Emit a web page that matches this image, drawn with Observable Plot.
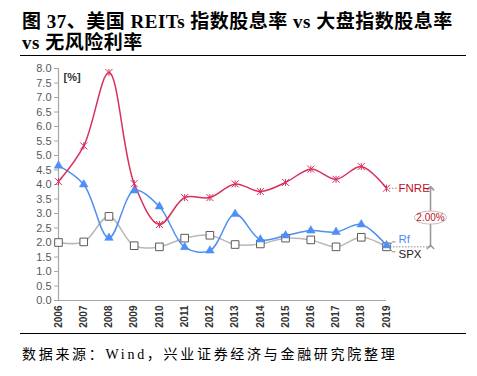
<!DOCTYPE html>
<html><head><meta charset="utf-8">
<script src="https://cdn.jsdelivr.net/npm/d3@7"></script>
<script src="https://cdn.jsdelivr.net/npm/@observablehq/plot@0.6"></script>
<style>
body{margin:0;width:477px;height:376px;position:relative;background:#fff;overflow:hidden}
#title{position:absolute;left:22px;top:11px;font-family:"Liberation Serif","Noto Sans CJK SC",serif;font-weight:bold;font-size:19px;letter-spacing:0.5px;line-height:21px;color:#000;white-space:nowrap}
.rule{position:absolute;left:20px;width:446px;height:0;border-top:1.5px solid #000}
#chart{position:absolute;left:0;top:60px}
#caption{position:absolute;left:22px;top:343px;font-family:"Liberation Serif","Noto Sans CJK SC",serif;font-size:14px;letter-spacing:2.7px;color:#000;white-space:nowrap}
</style></head>
<body>
<div id="title">图 37、美国 REITs 指数股息率 vs 大盘指数股息率<br>vs 无风险利率</div>
<div class="rule" style="top:55px"></div>
<div id="chart"></div>
<div class="rule" style="top:333px"></div>
<div id="caption">数据来源：Wind，兴业证券经济与金融研究院整理</div>
<script>
const years = [2006,2007,2008,2009,2010,2011,2012,2013,2014,2015,2016,2017,2018,2019];
const fnre = [4.10,5.33,7.86,4.03,2.62,3.55,3.55,4.02,3.76,4.07,4.53,4.18,4.62,3.87];
const rf   = [4.65,4.00,2.16,3.79,3.24,1.84,1.72,2.98,2.10,2.24,2.41,2.36,2.62,1.90];
const spx  = [2.00,2.02,2.90,1.89,1.85,2.15,2.25,1.93,1.95,2.15,2.09,1.85,2.18,1.85];
const yTicks = [0,0.5,1,1.5,2,2.5,3,3.5,4,4.5,5,5.5,6,6.5,7,7.5,8];
const seriesNames = ["FNRE","Rf","SPX"];
const spreadLabel = "2.00%";
const unitLabel = "[%]";

const cRed = "#d82f5b", cBlue = "#4d8ff5", cGray = "#b8b8b8";
const rows = (vals) => years.map((y,i)=>({year:y, v:vals[i]}));
const last = years.length-1;

const starSym = {draw(ctx,size){const s=Math.sqrt(size/Math.PI);
  ctx.moveTo(-s,-s);ctx.lineTo(s,s);ctx.moveTo(s,-s);ctx.lineTo(-s,s);ctx.moveTo(0,-s);ctx.lineTo(0,s);}};
const ellSym = {draw(ctx,size){const a=16,b=6.5,k=0.5523;
  ctx.moveTo(a,0);
  ctx.bezierCurveTo(a,b*k,a*k,b,0,b);
  ctx.bezierCurveTo(-a*k,b,-a,b*k,-a,0);
  ctx.bezierCurveTo(-a,-b*k,-a*k,-b,0,-b);
  ctx.bezierCurveTo(a*k,-b,a,-b*k,a,0);
  ctx.closePath();}};
const leaderUp = {draw(ctx,size){ctx.moveTo(3,-1);ctx.lineTo(6,-5);ctx.lineTo(9,-5);}};
const leaderDown = {draw(ctx,size){ctx.moveTo(3,1);ctx.lineTo(6,5);ctx.lineTo(9,5);}};

const lastRow = [{year:years[last], f:fnre[last], r:rf[last], s:spx[last], mid:(fnre[last]+spx[last])/2}];

const chart = Plot.plot({
  width:477, height:274,
  marginLeft:58, marginRight:91, marginTop:8, marginBottom:34,
  style:{fontFamily:"'Liberation Sans', Arial, sans-serif", background:"transparent", overflow:"visible"},
  x:{domain:[2006,2019], axis:null},
  y:{domain:[0,8], axis:null},
  marks:[
    Plot.ruleX([2006],{stroke:"#a6a6a6", strokeWidth:1.2}),
    Plot.ruleY([0],{stroke:"#a6a6a6", strokeWidth:1.2}),
    Plot.axisY({ticks:yTicks, tickFormat:d3.format(".1f"), tickSize:4, tickPadding:3, stroke:"#a6a6a6", fill:"#595959", fontSize:11, label:null}),
    Plot.axisX({ticks:years, tickFormat:d=>String(d), tickSize:0, tickPadding:5, tickRotate:-90, fill:"#333", fontSize:10, fontWeight:"bold", label:null}),
    Plot.text([unitLabel],{frameAnchor:"top-left", dx:5, dy:5, fontWeight:"bold", fontSize:11, fill:"#333", textAnchor:"start"}),
    // annotation dotted lines
    Plot.ruleY(lastRow,{y:"s", x1:"year", x2:"year", insetLeft:4, insetRight:-46, stroke:"#8c8c8c", strokeDasharray:"1.5,1.5", strokeWidth:1}),
    Plot.ruleY(lastRow,{y:"f", x1:"year", x2:"year", insetLeft:3, insetRight:-11, stroke:"#8c8c8c", strokeDasharray:"1.5,1.5", strokeWidth:1}),
    Plot.ruleY(lastRow,{y:"f", x1:"year", x2:"year", insetLeft:38, insetRight:-46, stroke:"#8c8c8c", strokeDasharray:"1.5,1.5", strokeWidth:1}),
    // series
    Plot.line(rows(spx),{x:"year", y:"v", stroke:cGray, strokeWidth:1.5, curve:"catmull-rom"}),
    Plot.line(rows(rf),{x:"year", y:"v", stroke:cBlue, strokeWidth:1.5, curve:"catmull-rom"}),
    Plot.line(rows(fnre),{x:"year", y:"v", stroke:cRed, strokeWidth:1.5, curve:"catmull-rom"}),
    Plot.dot(rows(spx),{x:"year", y:"v", symbol:"square", r:4.3, fill:"white", stroke:"#5a5a5a", strokeWidth:1}),
    Plot.dot(rows(rf),{x:"year", y:"v", symbol:"triangle", r:3.2, fill:cBlue, stroke:cBlue, strokeWidth:0.5}),
    Plot.dot(rows(fnre),{x:"year", y:"v", symbol:starSym, r:3.5, fill:"none", stroke:cRed, strokeWidth:1}),
    // leader lines for Rf / SPX labels
    Plot.dot(lastRow,{x:"year", y:"s", symbol:leaderUp, r:3, fill:"none", stroke:"#8c8c8c", strokeWidth:1}),
    Plot.dot(lastRow,{x:"year", y:"s", symbol:leaderDown, r:3, fill:"none", stroke:"#8c8c8c", strokeWidth:1}),
    // spread arrow
    Plot.link(lastRow,{x1:"year", x2:"year", y1:"s", y2:"f", dx:44, stroke:"#999", strokeWidth:1.6, markerStart:"arrow", markerEnd:"arrow"}),
    Plot.dot(lastRow,{x:"year", y:"mid", dx:44, symbol:ellSym, r:5, fill:"white", stroke:"#bdbdbd", strokeWidth:1}),
    Plot.text(lastRow,{x:"year", y:"mid", dx:44, text:()=>spreadLabel, fill:"#c0101f", fontSize:10}),
    // series labels
    Plot.text(lastRow,{x:"year", y:"f", dx:12, text:()=>seriesNames[0], textAnchor:"start", fill:"#c0101f", fontSize:11.5}),
    Plot.text(lastRow,{x:"year", y:"r", dx:12, dy:-6, text:()=>seriesNames[1], textAnchor:"start", fill:cBlue, fontSize:11.5}),
    Plot.text(lastRow,{x:"year", y:"s", dx:12, dy:7, text:()=>seriesNames[2], textAnchor:"start", fill:"#222", fontSize:11.5})
  ]
});
document.getElementById("chart").appendChild(chart);
</script>
</body></html>
